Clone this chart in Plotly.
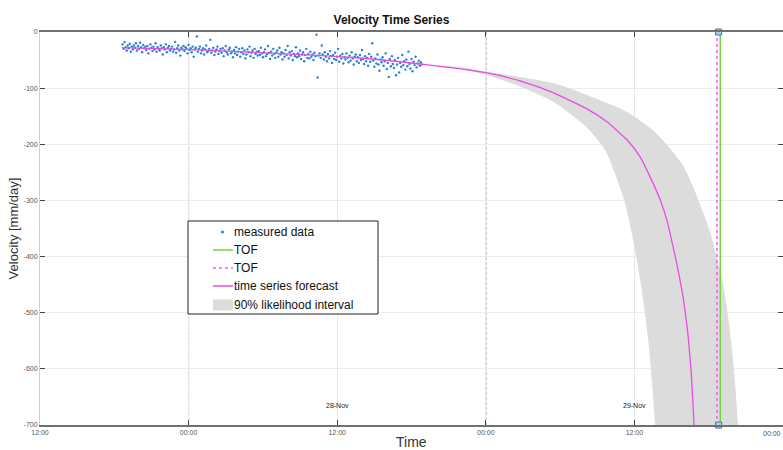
import plotly.graph_objects as go
from datetime import datetime, timedelta

# ---------------- data ----------------
meas_start = datetime(2023, 11, 27, 18, 40)
meas_step_minutes = 5
meas_values = [
    -22, -30, -18, -27, -33, -24, -29, -21, -35, -26, -31, -24,
    -28, -20, -33, -25, -30, -19, -27, -36, -23, -29, -26, -32,
    -25, -38, -30, -22, -28, -34, -26, -31, -20, -35, -27, -30,
    -33, -24, -29, -40, -27, -31, -22, -36, -28, -25, -33, -30,
    -26, -35, -31, -18, -37, -29, -24, -33, -42, -28, -31, -25,
    -34, -27, -30, -38, -23, -32, -29, -36, -26, -44, -31, -28,
    -8, -35, -30, -26, -38, -33, -29, -40, -31, -24, -36, -34,
    -30, -14, -37, -33, -28, -41, -35, -31, -26, -39, -34, -30,
    -37, -29, -43, -33, -25, -36, -40, -31, -28, -38, -35, -45,
    -32, -38, -27, -41, -35, -30, -44, -36, -29, -39, -33, -47,
    -40, -31, -36, -26, -43, -37, -33, -46, -30, -39, -35, -42,
    -34, -41, -28, -38, -45, -36, -31, -43, -39, -25, -37, -48,
    -35, -42, -30, -39, -46, -37, -33, -44, -28, -40, -36, -49,
    -38, -44, -32, -41, -25, -47, -36, -42, -34, -50, -39, -43,
    -27, -45, -38, -43, -33, -48, -40, -36, -52, -41, -30, -46,
    -39, -47, -35, -44, -40, -50, -37, -43, -5, -81, -42, -38,
    -46, -24, -40, -49, -36, -44, -52, -39, -47, -34, -43, -55,
    -41, -48, -37, -50, -44, -30, -53, -42, -47, -39, -56, -45,
    -49, -38, -46, -54, -42, -51, -36, -47, -58, -44, -40, -52,
    -45, -55, -41, -50, -32, -48, -57, -43, -52, -46, -60, -39,
    -53, -44, -20, -51, -62, -47, -56, -40, -58, -69, -49, -54,
    -45, -60, -52, -38, -66, -55, -80, -48, -61, -43, -57, -64,
    -50, -77, -58, -46, -72, -55, -62, -41, -59, -52, -67, -49,
    -61, -35, -57, -65, -48, -70, -53, -59, -44, -63, -56, -51,
    -60, -54, -58,
]
meas_times = [(meas_start + timedelta(minutes=meas_step_minutes * i)).strftime("%Y-%m-%d %H:%M")
              for i in range(len(meas_values))]

forecast_times = [
    "2023-11-27 18:37", "2023-11-28 00:55", "2023-11-28 06:59", "2023-11-28 13:02",
    "2023-11-28 19:30", "2023-11-29 00:06", "2023-11-29 02:46", "2023-11-29 05:26",
    "2023-11-29 08:10", "2023-11-29 09:47", "2023-11-29 11:24", "2023-11-29 12:27",
    "2023-11-29 13:16", "2023-11-29 14:04", "2023-11-29 14:38", "2023-11-29 15:07",
    "2023-11-29 15:26", "2023-11-29 15:41", "2023-11-29 15:56", "2023-11-29 16:05",
    "2023-11-29 16:15", "2023-11-29 16:22", "2023-11-29 16:29", "2023-11-29 16:34",
    "2023-11-29 16:39", "2023-11-29 16:44", "2023-11-29 16:49", "2023-11-29 16:54",
]
forecast_values = [
    -28, -32, -38, -45,
    -59, -73, -87, -108,
    -137, -160, -192, -222,
    -258, -298, -336, -382,
    -414, -442, -472, -496,
    -524, -548, -578, -600,
    -630, -664, -702, -745,
]

band_lower_times = [
    "2023-11-28 19:30", "2023-11-28 21:55", "2023-11-29 00:06", "2023-11-29 02:46",
    "2023-11-29 05:26", "2023-11-29 08:10", "2023-11-29 09:38", "2023-11-29 10:26",
    "2023-11-29 11:15", "2023-11-29 11:58", "2023-11-29 12:27", "2023-11-29 12:51",
    "2023-11-29 13:11", "2023-11-29 13:25", "2023-11-29 13:40", "2023-11-29 13:47",
]
band_lower_values = [
    -59, -66, -77, -97,
    -124, -170, -210, -252,
    -305, -378, -440, -500,
    -562, -624, -697, -745,
]
band_upper_times = [
    "2023-11-28 19:30", "2023-11-28 21:55", "2023-11-29 00:06", "2023-11-29 02:46",
    "2023-11-29 05:26", "2023-11-29 08:10", "2023-11-29 10:50", "2023-11-29 12:10",
    "2023-11-29 13:30", "2023-11-29 14:43", "2023-11-29 15:51", "2023-11-29 16:44",
    "2023-11-29 17:32", "2023-11-29 18:06", "2023-11-29 18:31", "2023-11-29 19:09",
    "2023-11-29 19:34", "2023-11-29 19:53", "2023-11-29 20:08", "2023-11-29 20:22",
    "2023-11-29 20:32",
]
band_upper_values = [
    -59, -63, -71, -80,
    -91, -112, -136, -153,
    -175, -203, -235, -275,
    -320, -355, -390, -448,
    -507, -566, -626, -697,
    -745,
]

tof_green_time = "2023-11-29 18:56"
tof_magenta_time = "2023-11-29 18:40"
tof_marker_time = "2023-11-29 18:48"

x_tick_vals = ["2023-11-27 12:00", "2023-11-28 00:00", "2023-11-28 12:00",
               "2023-11-29 00:00", "2023-11-29 12:00", "2023-11-30 00:00"]
x_tick_text = ["12:00", "00:00", "12:00", "00:00", "12:00", "00:00"]
y_tick_vals = [0, -100, -200, -300, -400, -500, -600, -700]
y_tick_text = ["0", "-100", "-200", "-300", "-400", "-500", "-600", "-700"]
day_labels = ["28-Nov", "29-Nov"]
day_label_times = ["2023-11-28 12:00", "2023-11-29 12:00"]
midnight_times = ["2023-11-28 00:00", "2023-11-29 00:00"]

legend_labels = ["measured data", "TOF", "TOF", "time series forecast", "90% likelihood interval"]

x_range = ["2023-11-27 12:00", "2023-11-30 00:00"]
y_range = [-700, 0]

FONT = "Liberation Sans, Arial, sans-serif"
C_MEAS = "#2a82d4"
C_FORE = "#e64ce6"
C_TOFG = "#72d43e"
C_TOFM = "#ff55ff"
C_BAND = "#dcdcdc"

# plot area geometry (pixels) used to place the hand-built legend box and titles
ML, MR, MT, MB, W, H = 40, 0, 32, 25, 783, 450
PW, PH = W - ML - MR, H - MT - MB


def px_x(px):
    return (px - ML) / PW


def px_y(py):
    return (H - MB - py) / PH


# ---------------- figure ----------------
fig = go.Figure()

fig.add_trace(go.Scatter(
    x=band_lower_times + band_upper_times[::-1],
    y=band_lower_values + band_upper_values[::-1],
    fill="toself", fillcolor=C_BAND, mode="lines",
    line=dict(width=0, color=C_BAND, shape="spline", smoothing=0.6),
    name=legend_labels[4], showlegend=False, hoverinfo="skip",
))
fig.add_trace(go.Scatter(
    x=meas_times, y=meas_values, mode="markers",
    marker=dict(size=2.4, color=C_MEAS),
    name=legend_labels[0], showlegend=False,
))
fig.add_trace(go.Scatter(
    x=forecast_times, y=forecast_values, mode="lines",
    line=dict(color=C_FORE, width=1.3, shape="spline", smoothing=0.5),
    name=legend_labels[3], showlegend=False,
))
fig.add_trace(go.Scatter(
    x=[tof_green_time, tof_green_time], y=y_range, mode="lines",
    line=dict(color=C_TOFG, width=1.5),
    name=legend_labels[1], showlegend=False,
))
fig.add_trace(go.Scatter(
    x=[tof_magenta_time, tof_magenta_time], y=y_range, mode="lines",
    line=dict(color=C_TOFM, width=1.5, dash="3px,3px"),
    name=legend_labels[2], showlegend=False,
))
fig.add_trace(go.Scatter(
    x=[tof_marker_time, tof_marker_time], y=y_range, mode="markers",
    marker=dict(symbol="square", size=6, color="#a9d0f0", line=dict(color="#2a7bc8", width=1)),
    showlegend=False, cliponaxis=False,
))

shapes = []
for t in midnight_times:
    shapes.append(dict(type="line", xref="x", yref="paper", x0=t, x1=t, y0=0, y1=1,
                       line=dict(color="#5a5a5a", width=1, dash="3px,2px"), layer="between"))

# legend box (drawn by hand so its size matches the reference)
LX0, LX1, LY0, LY1 = 188, 378, 221, 314
SX0, SX1, TX = 213, 233, 232
rows = [232, 250, 268, 286, 305]
shapes.append(dict(type="rect", xref="paper", yref="paper",
                   x0=px_x(LX0), x1=px_x(LX1), y0=px_y(LY1), y1=px_y(LY0),
                   fillcolor="white", line=dict(color="#222", width=1), layer="above"))
shapes.append(dict(type="circle", xref="paper", yref="paper",
                   x0=px_x(221), x1=px_x(224), y0=px_y(rows[0] + 1.5), y1=px_y(rows[0] - 1.5),
                   fillcolor=C_MEAS, line=dict(width=0), layer="above"))
shapes.append(dict(type="line", xref="paper", yref="paper",
                   x0=px_x(SX0), x1=px_x(SX1), y0=px_y(rows[1]), y1=px_y(rows[1]),
                   line=dict(color=C_TOFG, width=1.5), layer="above"))
shapes.append(dict(type="line", xref="paper", yref="paper",
                   x0=px_x(SX0), x1=px_x(SX1), y0=px_y(rows[2]), y1=px_y(rows[2]),
                   line=dict(color=C_TOFM, width=1.5, dash="3px,3px"), layer="above"))
shapes.append(dict(type="line", xref="paper", yref="paper",
                   x0=px_x(SX0), x1=px_x(SX1), y0=px_y(rows[3]), y1=px_y(rows[3]),
                   line=dict(color=C_FORE, width=1.5), layer="above"))
shapes.append(dict(type="rect", xref="paper", yref="paper",
                   x0=px_x(SX0), x1=px_x(SX1), y0=px_y(rows[4] + 5.5), y1=px_y(rows[4] - 5.5),
                   fillcolor=C_BAND, line=dict(width=0), layer="above"))

annotations = []
for lab, t in zip(day_labels, day_label_times):
    annotations.append(dict(x=t, y=-666, xref="x", yref="y", text=lab, showarrow=False,
                            font=dict(family=FONT, size=7, color="#222")))
for lab, r in zip(legend_labels, rows):
    annotations.append(dict(x=px_x(TX), y=px_y(r), xref="paper", yref="paper", text=lab,
                            showarrow=False, xanchor="left", yanchor="middle",
                            font=dict(family=FONT, size=12, color="#111")))
# x-axis title placed freely (axis titles are clamped inside the margin)
annotations.append(dict(x=0.5, y=px_y(442), xref="paper", yref="paper", text="Time",
                        showarrow=False, xanchor="center", yanchor="middle",
                        font=dict(family=FONT, size=14, color="#333")))
# last tick label at the right edge of the axis
annotations.append(dict(x=1.0, y=px_y(433), xref="paper", yref="paper", text=x_tick_text[-1],
                        showarrow=False, xanchor="right", yanchor="middle",
                        font=dict(family=FONT, size=7, color="#555")))

fig.update_layout(
    width=W, height=H,
    margin=dict(l=ML, r=MR, t=MT, b=MB),
    paper_bgcolor="white", plot_bgcolor="white",
    font=dict(family=FONT, color="#333"),
    title=dict(text="<b>Velocity Time Series</b>", x=0.5, xanchor="center", y=0.955, yanchor="middle",
               font=dict(family=FONT, size=12, color="#111")),
    showlegend=False,
    shapes=shapes, annotations=annotations,
)
fig.update_xaxes(
    type="date", range=x_range, tickvals=x_tick_vals[:-1], ticktext=x_tick_text[:-1],
    showgrid=True, gridcolor="#e6e6e6", gridwidth=1,
    ticks="inside", ticklen=5, tickcolor="#444",
    showline=True, linecolor="#707070", linewidth=1.5, mirror="ticks",
    tickfont=dict(family=FONT, size=7, color="#555"),
    zeroline=False, automargin=False,
)
fig.update_yaxes(
    range=y_range, tickvals=y_tick_vals, ticktext=y_tick_text,
    showgrid=True, gridcolor="#ececec", gridwidth=1,
    ticks="inside", ticklen=5, tickcolor="#444",
    showline=True, linecolor="#cfcfcf", linewidth=1, mirror="ticks",
    tickfont=dict(family=FONT, size=7, color="#555"),
    title=dict(text="Velocity [mm/day]", font=dict(family=FONT, size=13, color="#333"), standoff=2),
    zeroline=False, automargin=False,
)

fig.write_html("out.html", config={"displayModeBar": False},
               post_script="document.body.style.margin='0px';")
